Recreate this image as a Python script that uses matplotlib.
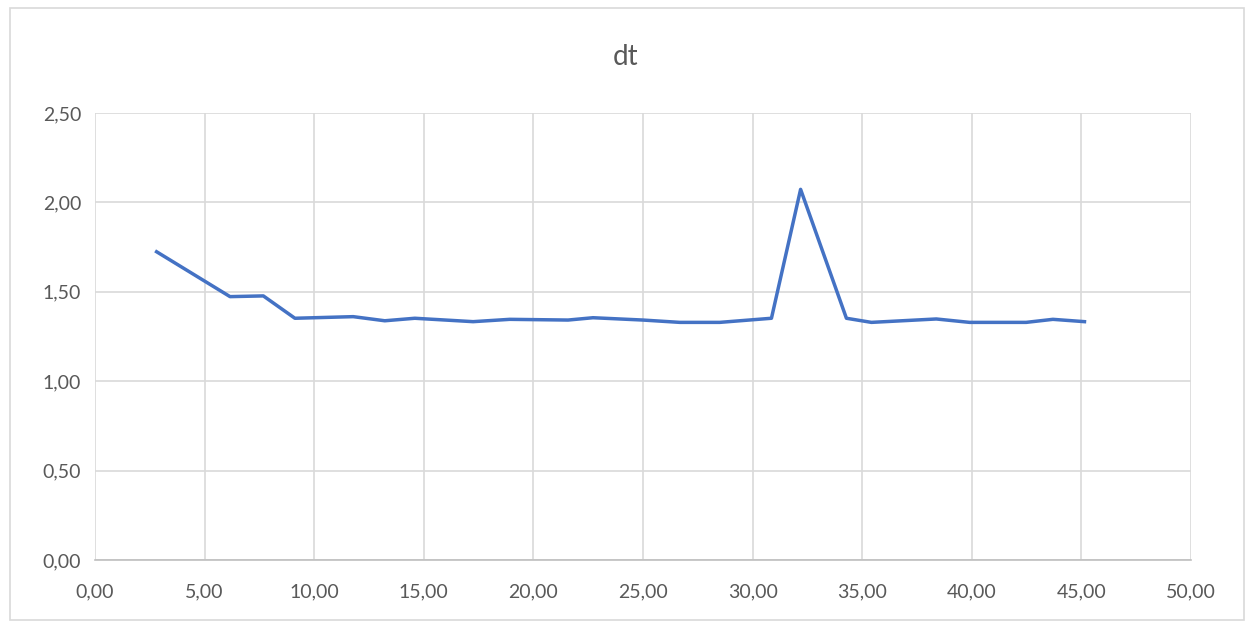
import matplotlib
matplotlib.use("Agg")
import matplotlib.pyplot as plt
from matplotlib.patches import Rectangle
from matplotlib.ticker import FuncFormatter, MultipleLocator

# values
t = [2.81, 6.16, 7.68, 9.12, 11.78, 13.22, 14.59, 17.25, 18.92, 21.58, 22.72,
     25.00, 26.68, 28.50, 30.86, 32.19, 34.28, 35.42, 38.38, 39.90, 42.48,
     43.70, 45.14]
dt = [1.724, 1.473, 1.477, 1.352, 1.361, 1.338, 1.352, 1.333, 1.346, 1.342,
      1.355, 1.342, 1.329, 1.329, 1.352, 2.073, 1.352, 1.329, 1.348, 1.329,
      1.329, 1.346, 1.333]

# Excel-style comma decimals
def comma_fmt(v, pos):
    return f"{v:.2f}".replace(".", ",")

plt.rcParams['font.family'] = ['Lato', 'DejaVu Sans']

fig = plt.figure(figsize=(12.51, 6.25), dpi=100)
fig.patches.append(Rectangle((10 / 1251, 1 - 620 / 625), 1234 / 1251, 612 / 625,
                             transform=fig.transFigure, fill=False,
                             edgecolor='#d9d9d9', linewidth=1.2))

ax = fig.add_axes([95 / 1251, 1 - 560 / 625, 1096 / 1251, 447 / 625])
ax.plot(t, dt, color='#4472C4', linewidth=2.5)

ax.set_xlim(0, 50)
ax.set_ylim(0, 2.5)
ax.xaxis.set_major_locator(MultipleLocator(5))
ax.yaxis.set_major_locator(MultipleLocator(0.5))
ax.xaxis.set_major_formatter(FuncFormatter(comma_fmt))
ax.yaxis.set_major_formatter(FuncFormatter(comma_fmt))
ax.grid(True, color='#d9d9d9', linewidth=1.2)
ax.set_axisbelow(True)
for side in ['top', 'right', 'left']:
    ax.spines[side].set_visible(False)
ax.spines['bottom'].set_color('#bfbfbf')
ax.spines['bottom'].set_linewidth(1.2)
ax.tick_params(length=0, labelsize=14, colors='#595959', pad=17)
ax.tick_params(axis='y', pad=10)

fig.text(0.5, 1 - 57 / 625, 'dt', ha='center', va='center', fontsize=20,
         color='#595959')

fig.savefig('out.png', dpi=100)
